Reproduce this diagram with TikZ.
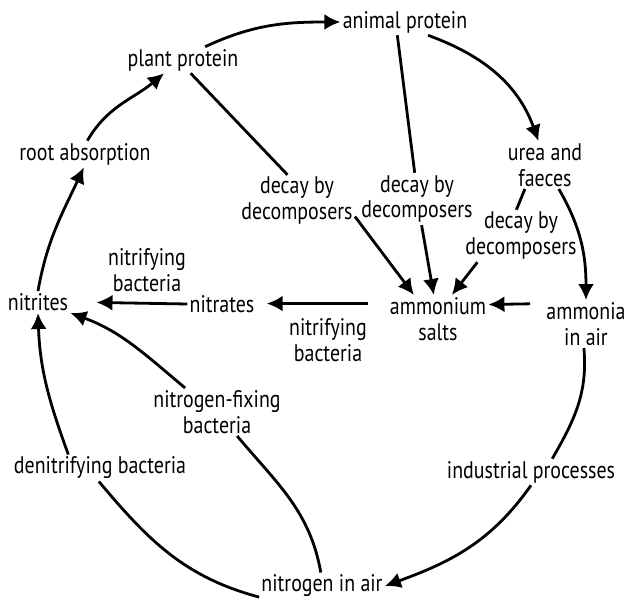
\documentclass[tikz,border=0pt]{standalone}
\usepackage{fontspec}
\setmainfont[FakeStretch=0.83]{PT Sans}
\usetikzlibrary{arrows.meta}

\begin{document}
\begin{tikzpicture}[x=0.5pt,y=0.5pt,>={Latex[length=8pt,width=8pt]},
  lbl/.style={inner sep=1pt,align=center,font=\fontsize{12}{13}\selectfont},
  flow/.style={->,line width=1.4pt},
  link/.style={line width=1.4pt}]

\useasboundingbox (0,0) rectangle (629,-605);

% the cycle
\node[lbl] (animal) at (405,-22) {animal protein};
\node[lbl] (plant) at (183,-60) {plant protein};
\node[lbl] (root) at (85,-154) {root absorption};
\node[lbl] (nitrites) at (38,-302) {nitrites};
\node[lbl] (nitrates) at (222,-304) {nitrates};
\node[lbl] (ammonium) at (438,-319) {ammonium\\salts};
\node[lbl] (ammonia) at (586,-324) {ammonia\\in air};
\node[lbl] (urea) at (545,-165) {urea and\\faeces};
\node[lbl] (industry) at (531,-472) {industrial processes};
\node[lbl] (nitroair) at (322,-586) {nitrogen in air};
\node[lbl] (denitr) at (100,-468) {denitrifying bacteria};
\node[lbl] (nfix) at (217,-412) {nitrogen-fixing\\bacteria};

% process labels
\node[lbl] (decayA) at (297,-201) {decay by\\decomposers};
\node[lbl] (decayB) at (417,-199) {decay by\\decomposers};
\node[lbl] (decayC) at (521,-236) {decay by\\decomposers};
\node[lbl] (nitrifA) at (147,-270) {nitrifying\\bacteria};
\node[lbl] (nitrifB) at (328,-340) {nitrifying\\bacteria};

% connectors
\draw[flow] (plant.31) to[out=25,in=180] (animal.west);
\draw[flow] (animal.-30) to[out=-20,in=110] (urea.105);
\draw[flow] (urea.-60) to[out=-60,in=90] (ammonia.north);

\draw[link] (animal.-120) -- (decayB.95);
\draw[flow] (decayB.-80) -- (ammonium.100);
\draw[link] (plant.-60) -- (decayA.110);
\draw[flow] (decayA.-15) -- (ammonium.135);
\draw[link] (urea.-130) -- (decayC.100);
\draw[flow] (decayC.-149) -- (ammonium.60);

\draw[flow,shorten <=7pt] (ammonia.154) -- (ammonium.16);
\draw[flow,shorten <=10pt,shorten >=5pt] (ammonium.163) -- (ammonium.163 -| nitrates.east);
\draw[flow,shorten >=13pt] (nitrates.west) -- (nitrites.east);

\draw[flow] (nitrites.north) to[out=80,in=-115] (root.-95);
\draw[flow] (root.80) to[out=60,in=-140] (plant.-145);

\draw[flow] (nfix.143) to[out=140,in=-20] (nitrites.south east);
\draw[link] (nitroair.95) to[out=100,in=-50] (nfix.-50);
\draw[link] (nitroair.190) to[out=165,in=-50] (denitr.-95);
\draw[flow] (denitr.157) to[out=110,in=-88] (nitrites.south);

\draw[link] (ammonia.-95) to[out=-85,in=60] (industry.32);
\draw[flow] (industry.south) to[out=-125,in=20] (nitroair.east);

\end{tikzpicture}
\end{document}
